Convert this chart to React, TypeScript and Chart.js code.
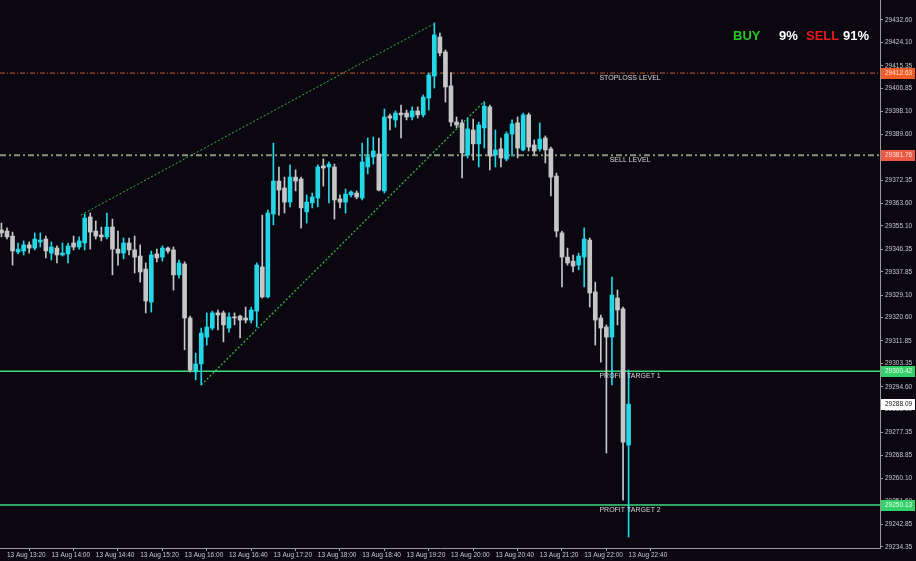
import React, { useEffect, useRef } from "react";
import { Chart, registerables } from "chart.js";

Chart.register(...registerables);

// ---- data ----
const FIRST_CANDLE = "13 Aug 13:15";
const BAR_MINUTES = 5;

const opens = [
  29353.6, 29353.2, 29351.3, 29345.3, 29345.7, 29348.0, 29346.8, 29349.1, 29350.2, 29344.9,
  29346.8, 29344.2, 29344.6, 29348.7, 29347.2, 29348.7, 29358.5, 29353.2, 29351.7, 29351.0,
  29354.7, 29346.4, 29344.9, 29348.7, 29346.1, 29343.8, 29338.9, 29326.5, 29344.6, 29343.4,
  29346.8, 29346.1, 29336.7, 29340.8, 29320.5, 29300.2, 29303.2, 29313.3, 29316.7, 29322.4,
  29322.4, 29316.7, 29320.9, 29321.2, 29320.5, 29319.7, 29323.1, 29339.7, 29328.4, 29359.6,
  29372.0, 29369.4, 29364.1, 29373.5, 29372.8, 29360.4, 29363.8, 29365.6, 29377.7, 29377.3,
  29377.3, 29365.3, 29364.1, 29366.8, 29367.5, 29365.6, 29377.3, 29381.1, 29382.2, 29368.3,
  29396.5, 29395.0, 29397.6, 29397.6, 29396.1, 29398.4, 29396.9, 29403.2, 29411.5, 29426.2,
  29420.6, 29407.8, 29394.2, 29393.9, 29381.8, 29391.2, 29386.0, 29392.0, 29399.9, 29381.8,
  29384.1, 29380.3, 29389.7, 29393.9, 29383.7, 29396.9, 29385.6, 29384.1, 29388.2, 29384.1,
  29373.9, 29352.5, 29343.4, 29341.9, 29340.4, 29343.4, 29349.8, 29330.3, 29320.5, 29317.1,
  29313.3, 29328.0, 29323.9, 29272.7,
];
const highs = [
  29356.2, 29354.4, 29352.8, 29348.7, 29349.5, 29349.1, 29352.5, 29352.5, 29351.3, 29349.1,
  29347.6, 29348.7, 29348.7, 29351.3, 29351.0, 29359.6, 29360.0, 29357.0, 29354.7, 29360.0,
  29357.7, 29353.2, 29350.6, 29350.6, 29351.3, 29348.0, 29341.2, 29345.7, 29346.4, 29347.6,
  29347.2, 29347.2, 29342.3, 29341.6, 29321.2, 29307.3, 29316.7, 29322.4, 29323.1, 29323.5,
  29323.1, 29322.4, 29322.4, 29321.6, 29324.6, 29324.6, 29341.2, 29359.2, 29361.1, 29386.3,
  29377.3, 29373.5, 29378.1, 29376.2, 29373.5, 29366.8, 29367.5, 29378.1, 29380.3, 29379.2,
  29378.4, 29366.8, 29369.0, 29368.3, 29368.3, 29386.3, 29388.2, 29388.6, 29388.2, 29399.1,
  29397.2, 29398.4, 29400.6, 29398.7, 29399.9, 29399.9, 29404.4, 29412.7, 29431.5, 29427.7,
  29421.3, 29412.7, 29396.1, 29395.0, 29395.7, 29395.3, 29394.2, 29401.7, 29400.6, 29391.2,
  29388.2, 29390.5, 29395.0, 29396.1, 29397.6, 29397.6, 29387.5, 29393.9, 29389.0, 29384.8,
  29375.0, 29353.2, 29346.8, 29344.2, 29344.9, 29354.4, 29350.6, 29334.0, 29321.6, 29317.9,
  29335.9, 29331.0, 29324.6, 29300.9,
];
const lows = [
  29351.0, 29350.2, 29340.4, 29344.6, 29344.2, 29344.9, 29346.1, 29347.2, 29343.1, 29342.3,
  29341.2, 29343.8, 29341.2, 29346.1, 29346.4, 29346.1, 29346.4, 29350.2, 29349.5, 29350.2,
  29336.7, 29340.4, 29342.7, 29344.2, 29337.4, 29334.0, 29322.4, 29322.7, 29341.6, 29341.9,
  29344.9, 29331.0, 29335.5, 29308.5, 29300.2, 29297.2, 29295.3, 29310.3, 29316.0, 29316.0,
  29311.5, 29315.2, 29317.9, 29313.0, 29318.6, 29318.6, 29317.1, 29328.0, 29328.0, 29355.5,
  29359.2, 29360.0, 29362.3, 29368.3, 29354.3, 29356.2, 29361.9, 29362.3, 29370.1, 29363.8,
  29357.7, 29361.9, 29360.0, 29366.0, 29365.3, 29364.9, 29374.7, 29378.4, 29368.3, 29367.5,
  29391.2, 29392.3, 29388.2, 29395.0, 29395.0, 29395.7, 29396.1, 29398.7, 29407.0, 29419.1,
  29401.7, 29392.7, 29392.0, 29373.2, 29380.7, 29379.9, 29377.3, 29384.4, 29376.2, 29377.3,
  29377.3, 29379.6, 29381.4, 29380.7, 29383.3, 29383.3, 29381.8, 29383.3, 29378.8, 29366.4,
  29351.0, 29332.2, 29340.4, 29337.8, 29338.6, 29332.2, 29324.6, 29310.3, 29303.9, 29269.7,
  29295.3, 29317.9, 29252.0, 29238.1,
];
const closes = [
  29352.5, 29351.0, 29345.7, 29346.4, 29348.0, 29346.8, 29350.2, 29349.8, 29345.7, 29347.2,
  29344.2, 29344.9, 29347.6, 29347.2, 29349.5, 29358.1, 29352.8, 29351.3, 29351.0, 29354.7,
  29346.4, 29344.9, 29348.7, 29346.1, 29343.4, 29337.8, 29326.9, 29344.2, 29343.1, 29346.8,
  29345.7, 29336.7, 29341.2, 29320.5, 29300.9, 29303.2, 29314.8, 29317.1, 29322.4, 29321.6,
  29317.9, 29320.9, 29320.5, 29319.7, 29319.7, 29323.5, 29340.4, 29328.4, 29360.0, 29372.0,
  29368.6, 29364.1, 29373.5, 29372.0, 29361.9, 29364.1, 29366.0, 29377.3, 29376.9, 29378.4,
  29364.9, 29364.1, 29367.1, 29367.9, 29366.0, 29379.2, 29381.1, 29383.3, 29368.6, 29396.1,
  29395.7, 29397.6, 29396.9, 29396.1, 29398.4, 29396.9, 29403.6, 29411.9, 29427.0, 29420.2,
  29407.4, 29394.2, 29393.1, 29382.6, 29391.6, 29386.0, 29393.1, 29400.2, 29381.4, 29383.7,
  29380.7, 29389.7, 29393.5, 29384.4, 29396.9, 29384.8, 29383.3, 29387.8, 29383.7, 29373.5,
  29353.2, 29343.4, 29341.2, 29340.0, 29343.8, 29350.2, 29329.9, 29319.7, 29316.7, 29313.3,
  29329.1, 29323.5, 29273.8, 29288.09,
];

const yTickValues = [
  29432.6, 29424.1, 29415.35, 29406.85, 29398.1, 29389.6, 29380.85, 29372.35, 29363.6, 29355.1,
  29346.35, 29337.85, 29329.1, 29320.6, 29311.85, 29303.35, 29294.6, 29286.1, 29277.35, 29268.85,
  29260.1, 29251.6, 29242.85, 29234.35,
];
const xTickLabels = [
  "13 Aug 13:20", "13 Aug 14:00", "13 Aug 14:40", "13 Aug 15:20", "13 Aug 16:00",
  "13 Aug 16:40", "13 Aug 17:20", "13 Aug 18:00", "13 Aug 18:40", "13 Aug 19:20",
  "13 Aug 20:00", "13 Aug 20:40", "13 Aug 21:20", "13 Aug 22:00", "13 Aug 22:40",
];

const levelNames = ["STOPLOSS LEVEL", "SELL LEVEL", "PROFIT TARGET 1", "PROFIT TARGET 2"];
const levelPrices = [29412.63, 29381.76, 29300.42, 29250.13];
const currentPrice = 29288.09;

const channelUpperX = [14.3, 77.8];
const channelUpperY = [29359.2, 29431.0];
const channelLowerX = [36.0, 87.0];
const channelLowerY = [29295.3, 29402.0];

const buyPct = 9;
const sellPct = 91;

// visible ranges
const X_MIN = -0.26;
const X_MAX = 158.3;
const Y_MIN = 29233.96;
const Y_MAX = 29440.12;

// ---- styles ----
const BG = "#0a0710";
const BULL = "#22d8e6";
const BEAR = "#c6c6c6";
const AXIS = "#9a9a9a";
const TICK_TEXT = "#c8c8c8";
const CHANNEL = "#3cb446";
const levelColors = ["#cf5a2a", "#8a9478", "#3fdc7c", "#3fdc7c"];
const levelWidths = [1, 2, 1.5, 1.5];
const levelDashes = [[5, 2, 1, 2], [6, 3, 2, 3], [], []];
const boxBg = ["#f25a26", "#ea5a44", "#34d06a", "#34d06a"];
const boxFg = ["#ffe2d2", "#ffe2dc", "#eaffee", "#eaffee"];

const toMinutes = (label: string) => {
  const t = label.split(" ").pop() as string;
  const [h, m] = t.split(":").map(Number);
  return h * 60 + m;
};
const xTickIndex = xTickLabels.map(
  (l) => (toMinutes(l) - toMinutes(FIRST_CANDLE)) / BAR_MINUTES
);

const overlayPlugin = {
  id: "overlay",
  beforeDraw(chart: any) {
    const { ctx, width, height } = chart;
    ctx.save();
    ctx.fillStyle = BG;
    ctx.fillRect(0, 0, width, height);
    ctx.restore();
  },
  afterDatasetsDraw(chart: any) {
    const { ctx } = chart;
    const xs = chart.scales.x;
    const ys = chart.scales.y;
    ctx.save();
    ctx.font = '7px "Liberation Sans"';
    ctx.fillStyle = "#d6d6d6";
    ctx.textAlign = "center";
    ctx.textBaseline = "top";
    const lx = xs.getPixelForValue(opens.length - 1) + 1.5;
    levelNames.forEach((name, k) => {
      ctx.fillText(name, lx, ys.getPixelForValue(levelPrices[k]) + 1.5);
    });
    ctx.restore();
  },
  afterDraw(chart: any) {
    const { ctx, chartArea } = chart;
    const ys = chart.scales.y;
    ctx.save();
    const boxes = [
      ...levelPrices.map((p, k) => ({ p, bg: boxBg[k], fg: boxFg[k] })),
      { p: currentPrice, bg: "#ffffff", fg: "#111111" },
    ];
    ctx.font = '6.5px "Liberation Sans"';
    ctx.textAlign = "left";
    ctx.textBaseline = "middle";
    boxes.forEach((b) => {
      const py = ys.getPixelForValue(b.p);
      ctx.fillStyle = b.bg;
      ctx.fillRect(ys.left + 1, Math.round(py) - 5, 34, 11);
      ctx.fillStyle = b.fg;
      ctx.fillText(b.p.toFixed(2), ys.left + 5, Math.round(py) + 0.5);
    });

    // BUY / SELL summary
    const segs = [
      { t: "BUY", c: "#24c81e", dx: 147 },
      { t: `${buyPct}%`, c: "#ffffff", dx: 101 },
      { t: "SELL", c: "#e41c1c", dx: 74 },
      { t: `${sellPct}%`, c: "#ffffff", dx: 37 },
    ];
    ctx.font = 'bold 13px "Liberation Sans"';
    ctx.textBaseline = "alphabetic";
    segs.forEach((s) => {
      ctx.fillStyle = s.c;
      ctx.fillText(s.t, chartArea.right - s.dx, 40);
    });
    ctx.restore();
  },
};

export default function App() {
  const ref = useRef<HTMLCanvasElement | null>(null);

  useEffect(() => {
    if (!ref.current) return;
    const idx = opens.map((_, i) => i);
    const colors = idx.map((i) => (closes[i] >= opens[i] ? BULL : BEAR));

    const levelSets = levelPrices.map((p, k) => ({
      type: "line",
      data: [
        { x: X_MIN, y: p },
        { x: X_MAX, y: p },
      ],
      borderColor: levelColors[k],
      borderWidth: levelWidths[k],
      borderDash: levelDashes[k],
      pointRadius: 0,
      order: 3,
    }));

    const channelSet = (xs: number[], vs: number[], w: number) => ({
      type: "line",
      data: xs.map((x, k) => ({ x, y: vs[k] })),
      borderColor: CHANNEL,
      borderWidth: w,
      borderDash: [2, 2],
      pointRadius: 0,
      order: 3,
    });

    const chart = new Chart(ref.current, {
      type: "bar",
      data: {
        datasets: [
          ...levelSets,
          channelSet(channelUpperX, channelUpperY, 1),
          channelSet(channelLowerX, channelLowerY, 1.3),
          {
            type: "bar",
            data: idx.map((i) => ({ x: i, y: [lows[i], highs[i]] })),
            backgroundColor: colors,
            borderWidth: 0,
            barThickness: 1,
            grouped: false,
            order: 1,
          },
          {
            type: "bar",
            data: idx.map((i) => ({ x: i, y: [opens[i], closes[i]] })),
            backgroundColor: colors,
            borderWidth: 0,
            barThickness: 4,
            minBarLength: 1,
            grouped: false,
            order: 0,
          },
        ] as any,
      },
      options: {
        animation: false,
        responsive: false,
        devicePixelRatio: 1,
        events: [],
        layout: { padding: 0, autoPadding: false } as any,
        plugins: {
          legend: { display: false },
          tooltip: { enabled: false },
        },
        scales: {
          x: {
            type: "linear",
            min: X_MIN,
            max: X_MAX,
            offset: false,
            position: "bottom",
            grid: {
              display: true,
              drawOnChartArea: false,
              drawTicks: true,
              tickLength: 3,
              color: AXIS,
            },
            border: { display: true, color: AXIS, width: 1 },
            ticks: {
              autoSkip: false,
              maxRotation: 0,
              minRotation: 0,
              align: "start",
              padding: 0,
              color: TICK_TEXT,
              font: { family: "Liberation Sans", size: 6.5 },
              callback: (_v: any, i: number) => xTickLabels[i],
            },
            afterBuildTicks: (scale: any) => {
              scale.ticks = xTickIndex.map((v) => ({ value: v }));
            },
            afterFit: (scale: any) => {
              scale.height = 13;
              scale.paddingLeft = 0;
              scale.paddingRight = 0;
            },
          } as any,
          y: {
            type: "linear",
            position: "right",
            min: Y_MIN,
            max: Y_MAX,
            grid: {
              display: true,
              drawOnChartArea: false,
              drawTicks: true,
              tickLength: 3,
              color: AXIS,
            },
            border: { display: true, color: AXIS, width: 1 },
            ticks: {
              padding: 2,
              color: TICK_TEXT,
              font: { family: "Liberation Sans", size: 6.5 },
              callback: (v: any) => Number(v).toFixed(2),
            },
            afterBuildTicks: (scale: any) => {
              scale.ticks = yTickValues.map((v) => ({ value: v }));
            },
            afterFit: (scale: any) => {
              scale.width = 36;
              scale.paddingTop = 0;
              scale.paddingBottom = 0;
            },
          } as any,
        },
      },
      plugins: [overlayPlugin],
    } as any);

    return () => chart.destroy();
  }, []);

  return (
    <div
      style={{
        position: "fixed",
        left: 0,
        top: 0,
        width: 916,
        height: 561,
        background: BG,
      }}
    >
      <canvas ref={ref} width={916} height={561} style={{ display: "block" }} />
    </div>
  );
}
